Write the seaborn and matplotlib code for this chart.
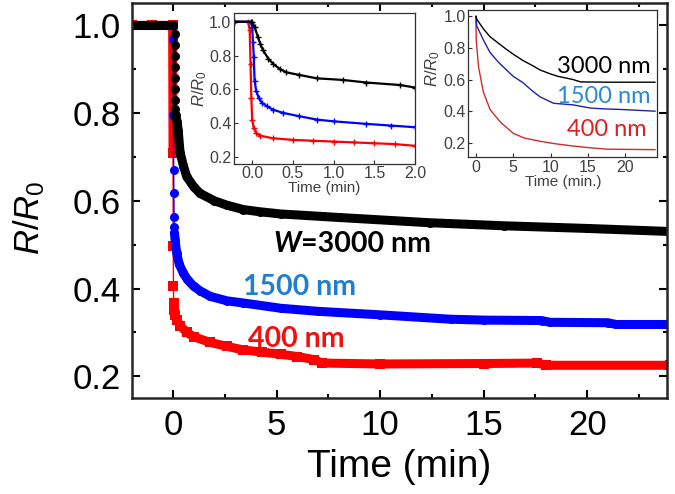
#Curvas de R/R0 vs tiempo para tres anchos W
#Grafico principal + dos insets
import matplotlib
matplotlib.use("Agg")
import matplotlib.pyplot as plt
from matplotlib.ticker import MultipleLocator
import numpy as np
import pandas as pd
import seaborn as sns

#Datos del grafico principal (tiempo en min, R/R0)
t_3000 = [-2.0, -1.0, 0.0, 0.08, 0.085, 0.09, 0.095, 0.1, 0.105, 0.11, 0.115, 0.12, 0.2, 0.25, 0.34, 0.5,
          0.66, 1.0, 1.3, 2.0, 2.6, 3.4, 4.2, 5.2, 8.0, 12.4, 16.0, 20.0, 24.0]
r_3000 = [1.0, 1.0, 1.0, 0.98, 0.955, 0.93, 0.905, 0.88, 0.855, 0.83, 0.81, 0.795, 0.78, 0.76, 0.71, 0.68,
          0.655, 0.632, 0.617, 0.60, 0.59, 0.58, 0.575, 0.57, 0.562, 0.55, 0.543, 0.537, 0.53]

t_1500 = [-2.0, -1.0, 0.0, 0.01, 0.02, 0.03, 0.04, 0.05, 0.06, 0.07, 0.1, 0.18, 0.3, 0.5, 0.7, 1.0,
          1.3, 1.8, 2.6, 3.4, 5.2, 7.0, 10.0, 13.4, 15.0, 17.8, 18.2, 21.0, 21.4, 24.0]
r_1500 = [1.0, 1.0, 1.0, 0.97, 0.795, 0.67, 0.617, 0.564, 0.541, 0.527, 0.51, 0.48, 0.455, 0.435, 0.42, 0.405,
          0.395, 0.382, 0.372, 0.367, 0.355, 0.348, 0.34, 0.33, 0.328, 0.327, 0.323, 0.322, 0.318, 0.318]

t_400 = [-2.0, -1.0, -0.02, 0.0, 0.01, 0.02, 0.03, 0.05, 0.1, 0.18, 0.35, 0.66, 1.0, 1.8, 2.6, 3.4,
         4.3, 5.2, 6.0, 6.8, 7.2, 10.0, 15.0, 17.6, 18.0, 24.0]
r_400 = [1.0, 1.0, 1.0, 0.709, 0.496, 0.405, 0.367, 0.35, 0.34, 0.329, 0.315, 0.30, 0.29, 0.277, 0.268, 0.26,
         0.255, 0.25, 0.245, 0.238, 0.23, 0.228, 0.229, 0.23, 0.225, 0.225]

#Inset 1: primeros 2 minutos
t1_3000 = [-0.22, 0.0, 0.03, 0.07, 0.1, 0.135, 0.2, 0.26, 0.34, 0.42, 0.58, 0.79, 1.12, 1.4, 1.82, 2.0]
r1_3000 = [1.0, 1.0, 0.97, 0.91, 0.87, 0.83, 0.78, 0.75, 0.72, 0.70, 0.685, 0.665, 0.655, 0.64, 0.625, 0.61]
t1_1500 = [-0.22, -0.02, 0.0, 0.01, 0.02, 0.03, 0.05, 0.08, 0.12, 0.18, 0.25, 0.38, 0.58, 0.8, 1.0, 1.4, 1.7, 2.0]
r1_1500 = [1.0, 1.0, 0.97, 0.88, 0.79, 0.65, 0.59, 0.55, 0.52, 0.50, 0.48, 0.46, 0.44, 0.42, 0.41, 0.395, 0.385, 0.375]
t1_400 = [-0.22, -0.05, -0.03, -0.02, -0.01, 0.0, 0.02, 0.05, 0.1, 0.25, 0.5, 0.75, 1.0, 1.25, 1.5, 1.75, 2.0]
r1_400 = [1.0, 1.0, 0.95, 0.75, 0.55, 0.42, 0.37, 0.34, 0.325, 0.31, 0.30, 0.295, 0.29, 0.285, 0.28, 0.275, 0.265]

#Inset 2: calculo (lineas finas)
t2_3000 = [0, 0.13, 1, 1.9, 3, 4.1, 5, 6.3, 7.5, 8.6, 10, 11, 13, 14, 18, 24]
r2_3000 = [1.0, 0.98, 0.92, 0.87, 0.83, 0.79, 0.76, 0.72, 0.69, 0.66, 0.635, 0.62, 0.60, 0.585, 0.583, 0.583]
t2_1500 = [0, 0.1, 1, 1.9, 3, 4.1, 5, 6.3, 7.5, 8.6, 10.4, 13, 15.3, 17, 19.8, 24]
r2_1500 = [1.0, 0.94, 0.85, 0.77, 0.71, 0.66, 0.62, 0.58, 0.53, 0.49, 0.45, 0.44, 0.42, 0.415, 0.41, 0.40]
t2_400 = [0, 0.04, 0.35, 1, 1.9, 3.3, 5, 6.5, 8.6, 10.5, 13, 15, 17.5, 24]
r2_400 = [1.0, 0.85, 0.68, 0.52, 0.41, 0.33, 0.26, 0.23, 0.21, 0.195, 0.18, 0.17, 0.16, 0.157]

sns.set_style("ticks")
plt.rcParams['font.family'] = ['Liberation Sans', 'DejaVu Sans']
plt.rcParams['mathtext.fontset'] = 'custom'
plt.rcParams['mathtext.rm'] = 'Liberation Sans'
plt.rcParams['mathtext.it'] = 'Liberation Sans:italic'
plt.rcParams['text.color'] = 'black'
plt.rcParams['axes.labelcolor'] = 'black'
plt.rcParams['xtick.color'] = 'black'
plt.rcParams['ytick.color'] = 'black'

fig = plt.figure(figsize=(6.75, 4.94), dpi=100)
ax = fig.add_axes([0.195, 0.194, 0.793, 0.799])

#(tiempo, valores, color, marcador, inicio de la zona densa)
main_series = [
    (t_400, r_400, "#ff0000", "s", 0.03),
    (t_1500, r_1500, "#0000ff", "o", 0.07),
    (t_3000, r_3000, "#000000", "o", 0.12),
]
for t, r, c, m, t_dense in main_series:
    df = pd.DataFrame({"t": t, "r": r})
    #banda gruesa donde los puntos son muy densos
    dense = df[df["t"] <= 0.0]
    ax.plot(dense["t"], dense["r"], color=c, lw=6.5, solid_capstyle="round")
    dense = df[df["t"] >= t_dense]
    ax.plot(dense["t"], dense["r"], color=c, lw=6.5, solid_capstyle="round")
    sns.lineplot(data=df, x="t", y="r", ax=ax, color=c, lw=1, marker=m, markersize=6.5,
                 markeredgewidth=0, sort=False, estimator=None)

ax.set_xlim(-2.0, 23.85)
ax.set_ylim(0.15, 1.05)
ax.xaxis.set_major_locator(MultipleLocator(5))
ax.xaxis.set_minor_locator(MultipleLocator(2.5))
ax.yaxis.set_major_locator(MultipleLocator(0.2))
ax.yaxis.set_minor_locator(MultipleLocator(0.1))
ax.yaxis.set_major_formatter(plt.FormatStrFormatter('%.1f'))
ax.tick_params(which="both", direction="in", top=True, right=True, width=1.5, labelsize=25, pad=8)
ax.tick_params(which="major", length=5.5)
ax.tick_params(which="minor", length=3)
for s in ax.spines.values():
    s.set_linewidth(1.8)
ax.set_xlabel("Time (min)", fontsize=28, labelpad=5)
ax.set_ylabel(r"$R/R_0$", fontsize=25)
ax.yaxis.set_label_coords(-0.159, 0.456)

#Etiquetas de ancho
w_txt = ax.text(4.83, 0.502, "W", fontsize=20.5, fontweight="bold", style="italic",
                family=["Lato", "DejaVu Sans"], va="center", ha="left")
ax.annotate("=3000 nm", xy=(1, 0), xycoords=w_txt, va="bottom", ha="left", fontsize=20.5,
            fontweight="bold", family=["Lato", "DejaVu Sans"])
ax.text(3.38, 0.404, "1500 nm", fontsize=20.5, fontweight="bold", color="#1f7fcf",
        family=["Lato", "DejaVu Sans"], va="center", ha="left")
ax.text(3.62, 0.286, "400 nm", fontsize=20.5, fontweight="bold", color="#f01010",
        family=["Lato", "DejaVu Sans"], va="center", ha="left")

#Inset 1
ins1 = fig.add_axes([0.347, 0.669, 0.268, 0.304])
for t, r, c in [(t1_400, r1_400, "#ff0000"), (t1_1500, r1_1500, "#0000ff"), (t1_3000, r1_3000, "#000000")]:
    sns.lineplot(x=t, y=r, ax=ins1, color=c, lw=1.6, marker="+", markersize=4,
                 markeredgewidth=1, markeredgecolor=c, sort=False, estimator=None)
ins1.set_xlim(-0.22, 2.0)
ins1.set_ylim(0.16, 1.05)
ins1.xaxis.set_major_locator(MultipleLocator(0.5))
ins1.yaxis.set_major_locator(MultipleLocator(0.2))
ins1.xaxis.set_major_formatter(plt.FormatStrFormatter('%.1f'))
ins1.yaxis.set_major_formatter(plt.FormatStrFormatter('%.1f'))
ins1.set_xlabel("Time (min)", fontsize=11, color="#404040", labelpad=0)
ins1.set_ylabel(r"$R/R_0$", fontsize=12, color="#404040", labelpad=0)

#Inset 2
ins2 = fig.add_axes([0.694, 0.682, 0.280, 0.298])
for t, r, c in [(t2_400, r2_400, "#d42a2a"), (t2_1500, r2_1500, "#2020b0"), (t2_3000, r2_3000, "#000000")]:
    sns.lineplot(x=t, y=r, ax=ins2, color=c, lw=1, sort=False, estimator=None)
ins2.set_xlim(-1.0, 24.3)
ins2.set_ylim(0.11, 1.04)
ins2.xaxis.set_major_locator(MultipleLocator(5))
ins2.yaxis.set_major_locator(MultipleLocator(0.2))
ins2.yaxis.set_major_formatter(plt.FormatStrFormatter('%.1f'))
ins2.set_xlabel("Time (min.)", fontsize=11, color="#404040", labelpad=0)
ins2.set_ylabel(r"$R/R_0$", fontsize=12, color="#404040", labelpad=0)
ins2.yaxis.set_label_coords(-0.14, 0.6)
ins2.text(23.4, 0.684, "3000 nm", fontsize=17, color="#000000", family=["Lato", "DejaVu Sans"],
          ha="right", va="center")
ins2.text(23.4, 0.494, "1500 nm", fontsize=17, color="#2a8ad6", family=["Lato", "DejaVu Sans"],
          ha="right", va="center")
ins2.text(22.9, 0.283, "400 nm", fontsize=17, color="#e02020", family=["Lato", "DejaVu Sans"],
          ha="right", va="center")

for a in (ins1, ins2):
    a.set_facecolor("white")
    a.tick_params(direction="in", length=3, width=0.8, labelsize=11.5, labelcolor="#404040",
                  color="#303030", pad=2)
    for s in a.spines.values():
        s.set_linewidth(0.9)
        s.set_color("#303030")

plt.savefig("out.png", dpi=100)
